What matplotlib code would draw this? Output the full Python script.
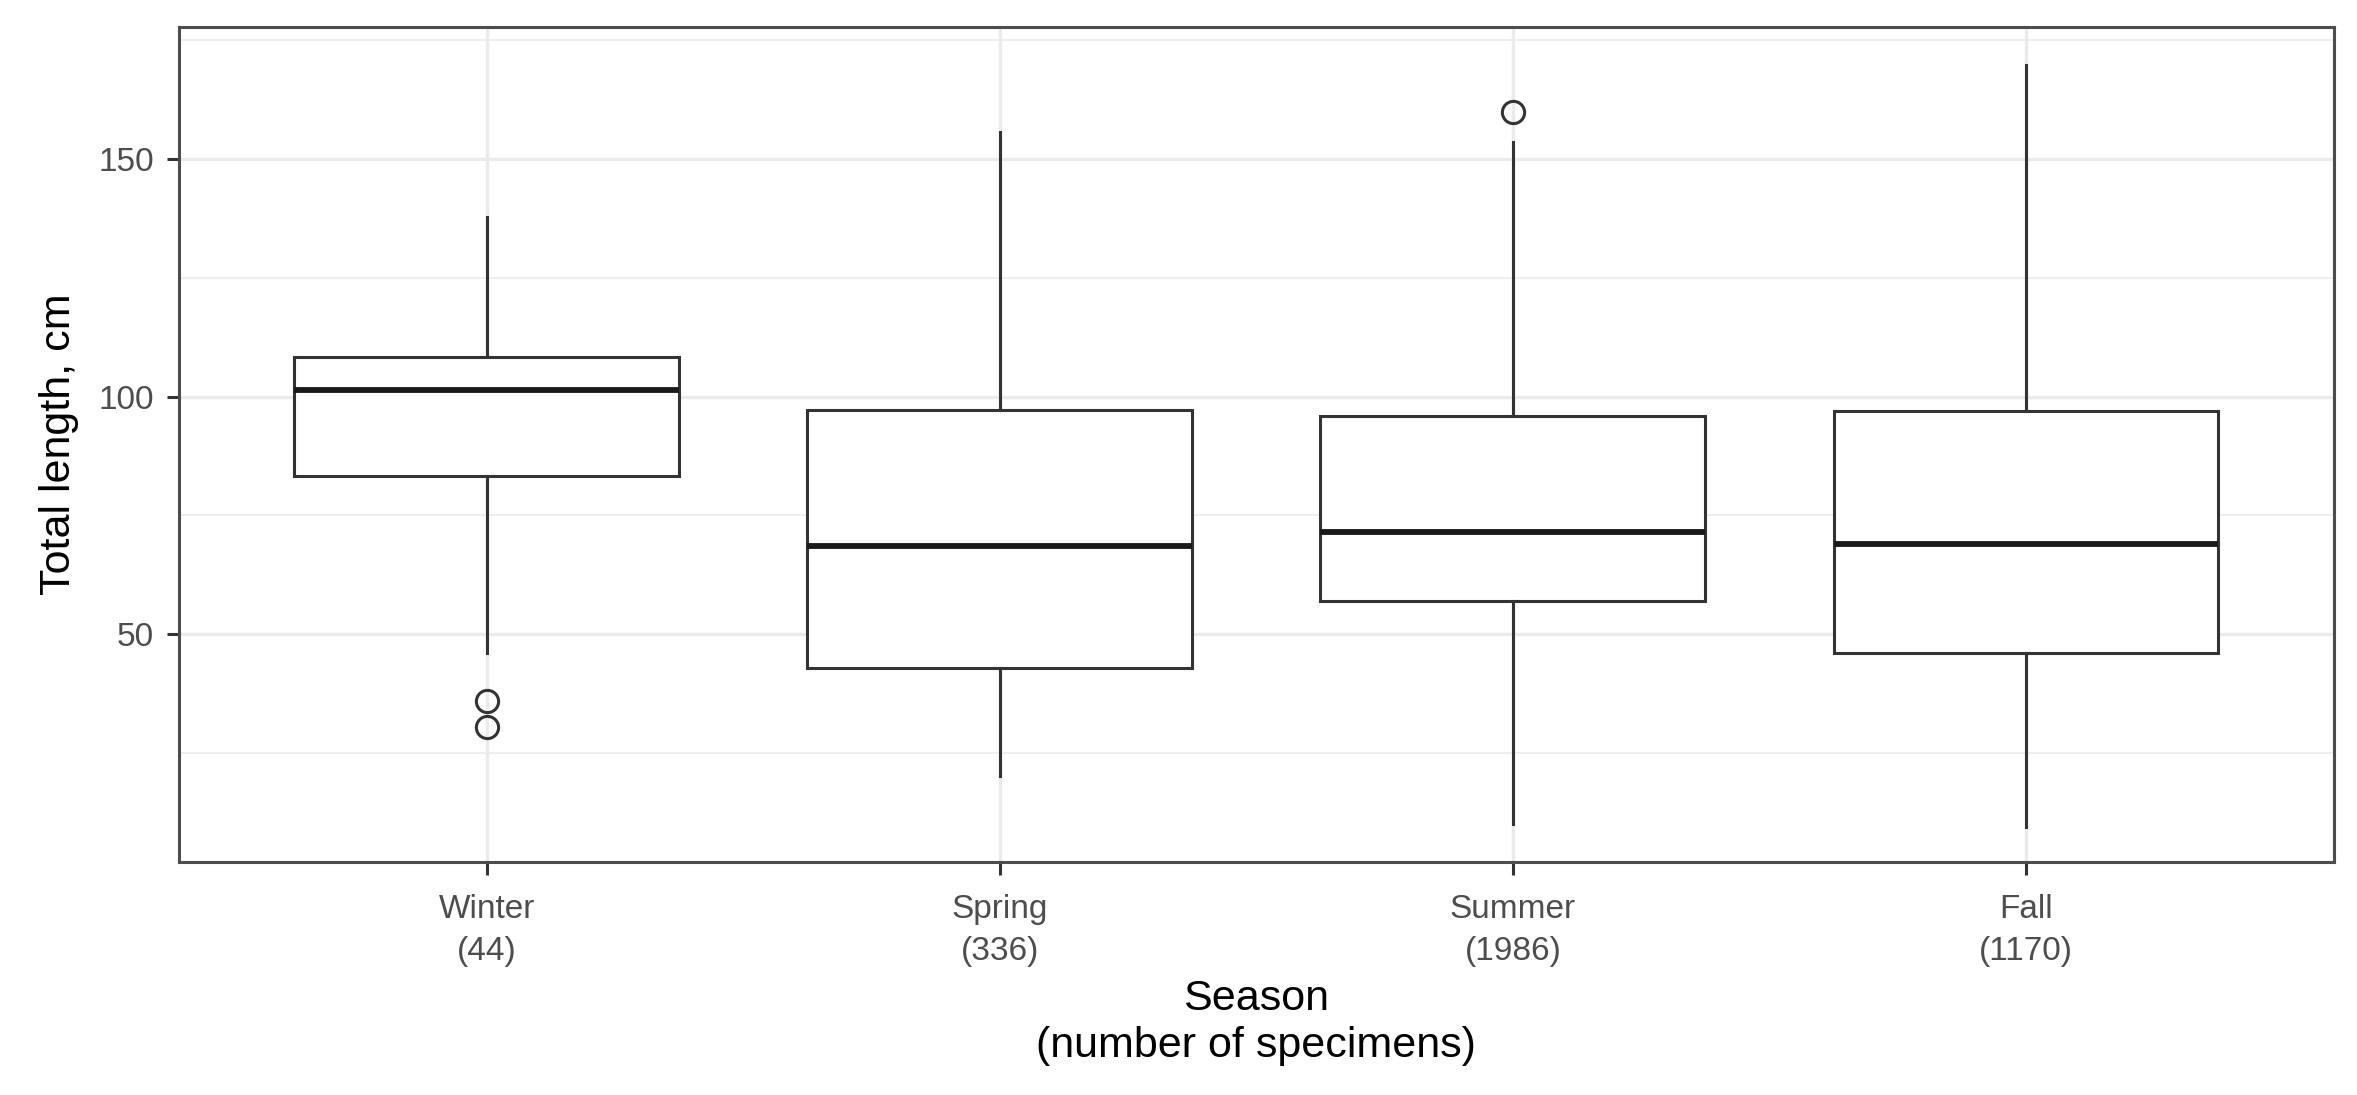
import numpy as np
import matplotlib.pyplot as plt
from matplotlib.ticker import MultipleLocator

plt.rcParams['font.family'] = ['Liberation Sans', 'DejaVu Sans']

seasons = ["Winter", "Spring", "Summer", "Fall"]
counts = [44, 336, 1986, 1170]
whislo = [46.1, 20.1, 10.0, 9.4]
q1 = [83.3, 42.9, 56.9, 46.1]
med = [101.3, 68.5, 71.5, 69.0]
q3 = [108.4, 97.1, 95.9, 96.9]
whishi = [137.8, 155.7, 153.6, 169.8]
fliers = [[36.0, 30.5], [], [159.9], []]

stats = []
for i in range(len(seasons)):
    stats.append(dict(label=f"{seasons[i]}\n({counts[i]})", whislo=whislo[i], q1=q1[i],
                      med=med[i], q3=q3[i], whishi=whishi[i], fliers=fliers[i]))

line_col = "#333333"
fig = plt.figure(figsize=(23.57, 10.95), dpi=100)
ax = fig.add_axes([0.0758, 0.2128, 0.9902 - 0.0758, 0.9753 - 0.2128])

ax.bxp(stats, positions=np.arange(1, 5), widths=0.75, showcaps=False, patch_artist=True,
       boxprops=dict(facecolor="white", edgecolor=line_col, linewidth=2.2),
       whiskerprops=dict(color=line_col, linewidth=2.2),
       medianprops=dict(color="#1a1a1a", linewidth=4.2, solid_capstyle="butt"),
       flierprops=dict(marker="o", markersize=16, markerfacecolor="none",
                       markeredgecolor=line_col, markeredgewidth=2.2),
       zorder=3)

ax.set_xlim(0.4, 4.6)
ax.set_ylim(2.0, 177.8)
ax.yaxis.set_major_locator(MultipleLocator(50))
ax.yaxis.set_minor_locator(MultipleLocator(25))
ax.grid(which="major", color="#EBEBEB", linewidth=2.4, zorder=0)
ax.grid(which="minor", axis="y", color="#EBEBEB", linewidth=1.2, zorder=0)
ax.set_axisbelow(True)

for s in ax.spines.values():
    s.set_color("#4D4D4D")
    s.set_linewidth(2.2)

ax.tick_params(axis="both", which="major", length=9, width=2.2, color=line_col,
               labelcolor="#4D4D4D", labelsize=24, pad=9)
ax.tick_params(axis="x", pad=14)
ax.tick_params(axis="both", which="minor", length=0)
for lab in ax.get_xticklabels():
    lab.set_linespacing(1.45)

ax.set_ylabel("Total length, cm", fontsize=31, labelpad=14)
ax.set_xlabel("Season\n(number of specimens)", fontsize=31, labelpad=9, linespacing=1.22)

fig.savefig("out.png", dpi=100, facecolor="white")
